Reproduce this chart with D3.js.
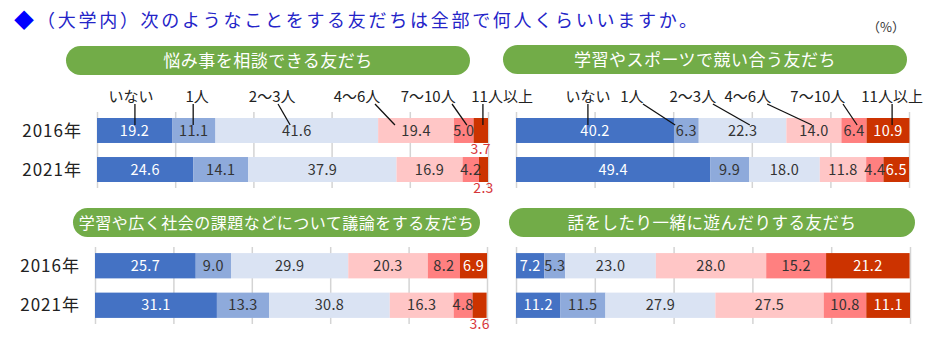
<!DOCTYPE html>
<html><head><meta charset="utf-8">
<script src="https://cdn.jsdelivr.net/npm/d3@7"></script>
<style>
body{margin:0;background:#fff;}
svg{display:block;font-family:"Noto Sans CJK JP","Noto Sans",sans-serif;}
</style></head>
<body><svg id="chart" width="939" height="343"></svg>
<script>
// ---- data ----
const title = "（大学内）次のようなことをする友だちは全部で何人くらいいますか。";
const unitLabel = "（%）";
const categories = ["いない","1人","2～3人","4～6人","7～10人","11人以上"];
const years = ["2016年","2021年"];
const ticks = [0,20,40,60,80,100];
const panelTitles = [
  "悩み事を相談できる友だち",
  "学習やスポーツで競い合う友だち",
  "学習や広く社会の課題などについて議論をする友だち",
  "話をしたり一緒に遊んだりする友だち"
];
const worryValues   = [[19.2,11.1,41.6,19.4,5.0,3.7],[24.6,14.1,37.9,16.9,4.2,2.3]];
const competeValues = [[40.2,6.3,22.3,14.0,6.4,10.9],[49.4,9.9,18.0,11.8,4.4,6.5]];
const discussValues = [[25.7,9.0,29.9,20.3,8.2,6.9],[31.1,13.3,30.8,16.3,4.8,3.6]];
const playValues    = [[7.2,5.3,23.0,28.0,15.2,21.2],[11.2,11.5,27.9,27.5,10.8,11.1]];
const panelValues = [worryValues, competeValues, discussValues, playValues];

// ---- style / layout ----
const colors = ["#4472c4","#8eaadb","#dae3f3","#ffc6c6","#ff8080","#cc3300"];
const textColors = ["#fff","#333","#333","#333","#333","#fff"];
const green = "#72ac48";
// label layout in axis-percent units: [labelCenter, lineTopX, lineBottomX]
const catLayouts = [
  [[8.7,9.7,9.7],[25.6,24.6,24.6],[44.8,46.3,49.4],[66.5,71.1,76.2],[84.7,90.8,94.6],[103.6,98.7,98.7]],
  [[18.3,18.3,18.3],[29.5,32.3,40.5],[45.0,50.1,59.5],[59.0,63.9,75.3],[76.8,83.2,86.8],[95.7,95.7,95.7]]
];
const panels = [
  {x0:97, x1:488, top:112, bottom:188, pill:[66,46,404,29], fs:17, years:true, cats:0},
  {x0:516,x1:909, top:112, bottom:188, pill:[503,45,404,29], fs:17, years:false, cats:1},
  {x0:95, x1:487, top:247, bottom:324, pill:[73,208,407,29], fs:16, years:true, cats:null},
  {x0:516,x1:910, top:247, bottom:324, pill:[509,208,406,29], fs:16.5, years:false, cats:null}
];

const svg = d3.select("#chart");

// title
svg.append("text").attr("x",14).attr("y",28).attr("font-size",20).attr("fill","#0000ff").text("◆");
svg.append("text").attr("x",37).attr("y",27).attr("font-size",18).attr("fill","#2424c8")
  .attr("textLength",660).attr("lengthAdjust","spacing").text(title);
svg.append("text").attr("x",886).attr("y",32).attr("font-size",13).attr("fill","#333")
  .attr("text-anchor","middle").text(unitLabel);

panels.forEach((p,pi)=>{
  const vals = panelValues[pi];
  const g = svg.append("g");
  const x = d3.scaleLinear().domain([0,100]).range([p.x0,p.x1]);
  const y = d3.scaleBand().domain(years).range([p.top,p.bottom]).paddingInner(0.36).paddingOuter(0.154);

  // pill header
  const [px,py,pw,ph] = p.pill;
  g.append("rect").attr("x",px).attr("y",py).attr("width",pw).attr("height",ph)
    .attr("rx",ph/2).attr("fill",green);
  g.append("text").attr("x",px+pw/2).attr("y",py+ph/2+1).attr("dy","0.35em")
    .attr("text-anchor","middle").attr("font-size",p.fs).attr("fill","#fff")
    .attr("letter-spacing",0.5).text(panelTitles[pi]);

  // gridlines
  const axis = d3.axisBottom(x).tickValues(ticks).tickSize(-(p.bottom-p.top)).tickFormat("");
  const ag = g.append("g").attr("transform",`translate(0,${p.bottom})`).call(axis);
  ag.select(".domain").remove();
  ag.selectAll(".tick line").attr("stroke","#d4d4d4").attr("stroke-width",1.5);

  // bars
  years.forEach((yr,yi)=>{
    const row = vals[yi];
    let cum = 0;
    const segs = row.map((v,i)=>{const s={v,i,start:cum}; cum+=v; return s;});
    const rg = g.append("g");
    rg.selectAll("rect").data(segs).join("rect")
      .attr("x",d=>x(d.start)).attr("y",y(yr))
      .attr("width",d=>Math.max(0,x(d.start+d.v)-x(d.start)))
      .attr("height",y.bandwidth()).attr("fill",d=>colors[d.i]);
    rg.selectAll("text").data(segs).join("text")
      .attr("x",d=>x(d.start+d.v/2))
      .attr("y",d=> d.v<4 ? y(yr)+y.bandwidth()+6 : y(yr)+y.bandwidth()/2)
      .attr("dy","0.36em").attr("text-anchor","middle").attr("font-size",d=>d.v<4?14:14.5)
      .attr("letter-spacing",0.3)
      .attr("fill",d=> d.v<4 ? "#d6363a" : textColors[d.i])
      .text(d=>d.v.toFixed(1));
    if(p.years){
      g.append("text").attr("x",p.x0-15).attr("y",y(yr)+y.bandwidth()/2).attr("dy","0.36em")
        .attr("text-anchor","end").attr("font-size",17).attr("letter-spacing",1).attr("fill","#222").text(yr);
    }
  });

  // category labels with leader lines
  if(p.cats!==null){
    const lay = catLayouts[p.cats];
    const barTop = y(years[0]);
    categories.forEach((c,i)=>{
      const [lc,lt,lb] = lay[i];
      g.append("text").attr("x",x(lc)).attr("y",102).attr("text-anchor","middle")
        .attr("font-size",15).attr("fill","#222").text(c);
      g.append("line").attr("x1",x(lt)).attr("y1",104).attr("x2",x(lb)).attr("y2",barTop+7)
        .attr("stroke","#111").attr("stroke-width",1.3);
    });
  }
});
</script></body></html>
